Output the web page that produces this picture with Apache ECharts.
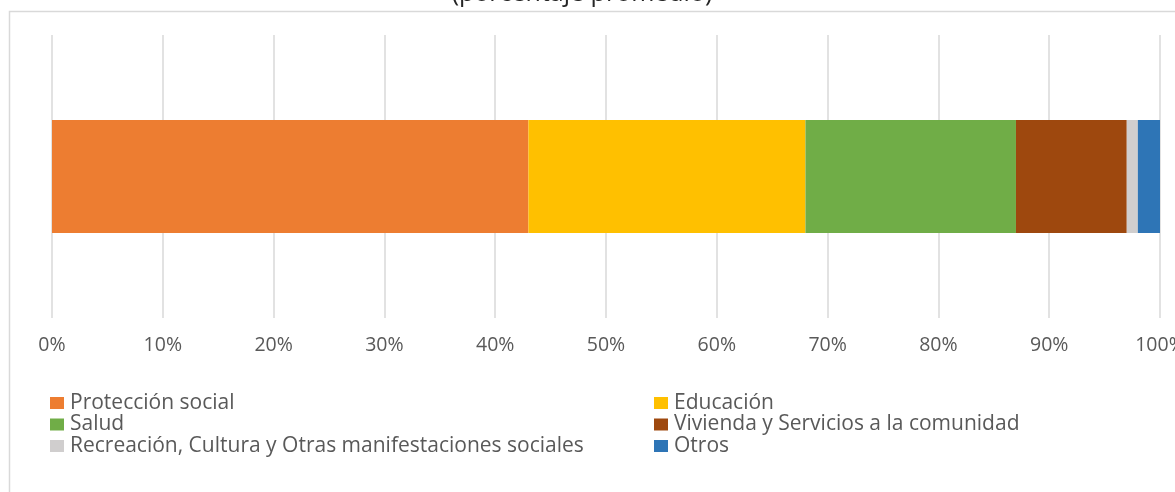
<!DOCTYPE html>
<html>
<head>
<meta charset="utf-8">
<script src="https://cdn.jsdelivr.net/npm/echarts@6/dist/echarts.min.js"></script>
<style>
  html, body { margin: 0; padding: 0; background: #ffffff; overflow: hidden; }
  #chart { width: 1175px; height: 492px; }
</style>
</head>
<body>
<div id="chart"></div>
<script>
// Spending composition (average percentage), one stacked bar
const categories = ['Gasto'];
const seriesNames = [
  'Protección social',
  'Educación',
  'Salud',
  'Vivienda y Servicios a la comunidad',
  'Recreación, Cultura y Otras manifestaciones sociales',
  'Otros'
];
const seriesValues = [43, 25, 19, 10, 1, 2];
const seriesColors = ['#ED7D31', '#FFC000', '#70AD47', '#9E480E', '#D0CECE', '#2E75B6'];
const xTicks = { min: 0, max: 100, interval: 10 };

const FONT = 'Open Sans';
const TEXT = '#595959';

const chart = echarts.init(document.getElementById('chart'), null, { renderer: 'canvas' });

const series = seriesNames.map((name, i) => ({
  name: name,
  type: 'bar',
  stack: 'total',
  barWidth: 113,
  itemStyle: { color: seriesColors[i] },
  emphasis: { disabled: true },
  data: [seriesValues[i]]
}));

const legendText = { color: TEXT, fontFamily: FONT, fontSize: 21, lineHeight: 21, padding: [0, 0, 0, 1] };

chart.setOption({
  animation: false,
  backgroundColor: '#ffffff',
  graphic: [
    // chart frame: top and left edges (the rest runs off the canvas)
    {
      type: 'polyline',
      shape: { points: [[9.5, 600], [9.5, 11.5], [1300, 11.5]] },
      style: { fill: 'none', stroke: '#D9D9D9', lineWidth: 1.5 },
      silent: true,
      z: -1
    },
    {
      type: 'text',
      x: 582, y: -18.5,
      style: {
        text: '(porcentaje promedio)',
        font: '25px "' + FONT + '"',
        fill: '#262626',
        align: 'center',
        verticalAlign: 'top'
      },
      silent: true
    }
  ],
  grid: { left: 52, right: 15, top: 35, bottom: 174, containLabel: false, outerBoundsMode: 'none' },
  xAxis: {
    type: 'value',
    min: xTicks.min, max: xTicks.max, interval: xTicks.interval,
    axisLine: { show: false },
    axisTick: { show: false },
    splitLine: { show: true, lineStyle: { color: '#D9D9D9', width: 1.5 } },
    axisLabel: {
      formatter: '{value}%',
      color: TEXT,
      fontFamily: FONT,
      fontSize: 19.5,
      margin: 17,
      hideOverlap: false
    }
  },
  yAxis: {
    type: 'category',
    data: categories,
    show: false
  },
  legend: [
    {
      orient: 'vertical',
      left: 45, top: 387.5,
      icon: 'rect', itemWidth: 14, itemHeight: 12, itemGap: 0.5,
      data: [seriesNames[0], seriesNames[2], seriesNames[4]],
      textStyle: legendText,
      selectedMode: false
    },
    {
      orient: 'vertical',
      left: 649, top: 387.5,
      icon: 'rect', itemWidth: 14, itemHeight: 12, itemGap: 0.5,
      data: [seriesNames[1], seriesNames[3], seriesNames[5]],
      textStyle: legendText,
      selectedMode: false
    }
  ],
  series: series
});
</script>
</body>
</html>
